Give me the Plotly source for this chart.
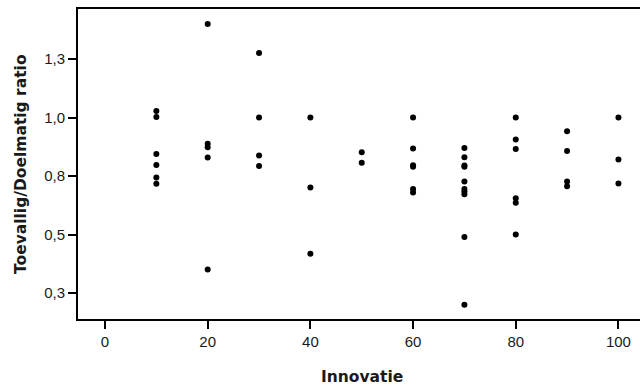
import plotly.graph_objects as go

# Data
innovatie = (
    [10] * 6 + [20] * 5 + [30] * 4 + [40] * 3 + [50] * 2 +
    [60] * 6 + [70] * 10 + [80] * 6 + [90] * 4 + [100] * 3
)
ratio = [
    1.028, 1.002, 0.844, 0.797, 0.744, 0.717,          # 10
    1.400, 0.888, 0.873, 0.829, 0.350,                 # 20
    1.276, 1.000, 0.838, 0.793,                        # 30
    1.000, 0.701, 0.418,                               # 40
    0.851, 0.807,                                      # 50
    1.000, 0.868, 0.796, 0.790, 0.694, 0.680,          # 60
    0.870, 0.830, 0.795, 0.790, 0.727, 0.694, 0.684, 0.672, 0.489, 0.200,  # 70
    1.000, 0.906, 0.865, 0.655, 0.636, 0.500,          # 80
    0.941, 0.857, 0.726, 0.706,                        # 90
    1.000, 0.821, 0.718,                               # 100
]

x_tickvals = [0, 20, 40, 60, 80, 100]
y_tickvals = [0.25, 0.5, 0.75, 1.0, 1.25]
y_ticktext = ["0,3", "0,5", "0,8", "1,0", "1,3"]
x_title = "Innovatie"
y_title = "Toevallig/Doelmatig ratio"

fig = go.Figure()
fig.add_trace(go.Scatter(
    x=innovatie, y=ratio, mode="markers",
    marker=dict(color="black", size=6, line=dict(width=0)),
    showlegend=False, hoverinfo="x+y",
))

tick_font = dict(family="Liberation Sans", size=15, color="#1a1a1a")
title_font = dict(family="DejaVu Sans", size=15.5, color="#1a1a1a", weight="bold")

fig.update_layout(
    width=640, height=390,
    margin=dict(l=78, r=0, t=9, b=71),
    paper_bgcolor="white", plot_bgcolor="white",
    xaxis=dict(
        range=[-5.26, 104.2], tickvals=x_tickvals,
        showgrid=False, zeroline=False,
        showline=True, linecolor="black", linewidth=2, mirror=True,
        ticks="outside", ticklen=8, tickwidth=2, tickcolor="black",
        tickfont=tick_font,
    ),
    yaxis=dict(
        range=[0.1389, 1.4637], tickvals=y_tickvals, ticktext=y_ticktext,
        showgrid=False, zeroline=False,
        showline=True, linecolor="black", linewidth=2, mirror=False,
        ticks="outside", ticklen=8, tickwidth=2, tickcolor="black",
        tickfont=tick_font,
    ),
    annotations=[
        dict(text=x_title, xref="x", x=50, yref="paper", y=0,
             xanchor="center", yanchor="middle", yshift=-58,
             showarrow=False, font=title_font),
        dict(text=y_title, xref="paper", x=0, yref="paper", y=0.5,
             xanchor="center", yanchor="middle", xshift=-57, textangle=-90,
             showarrow=False, font=title_font),
    ],
)

fig.write_html("out.html")
